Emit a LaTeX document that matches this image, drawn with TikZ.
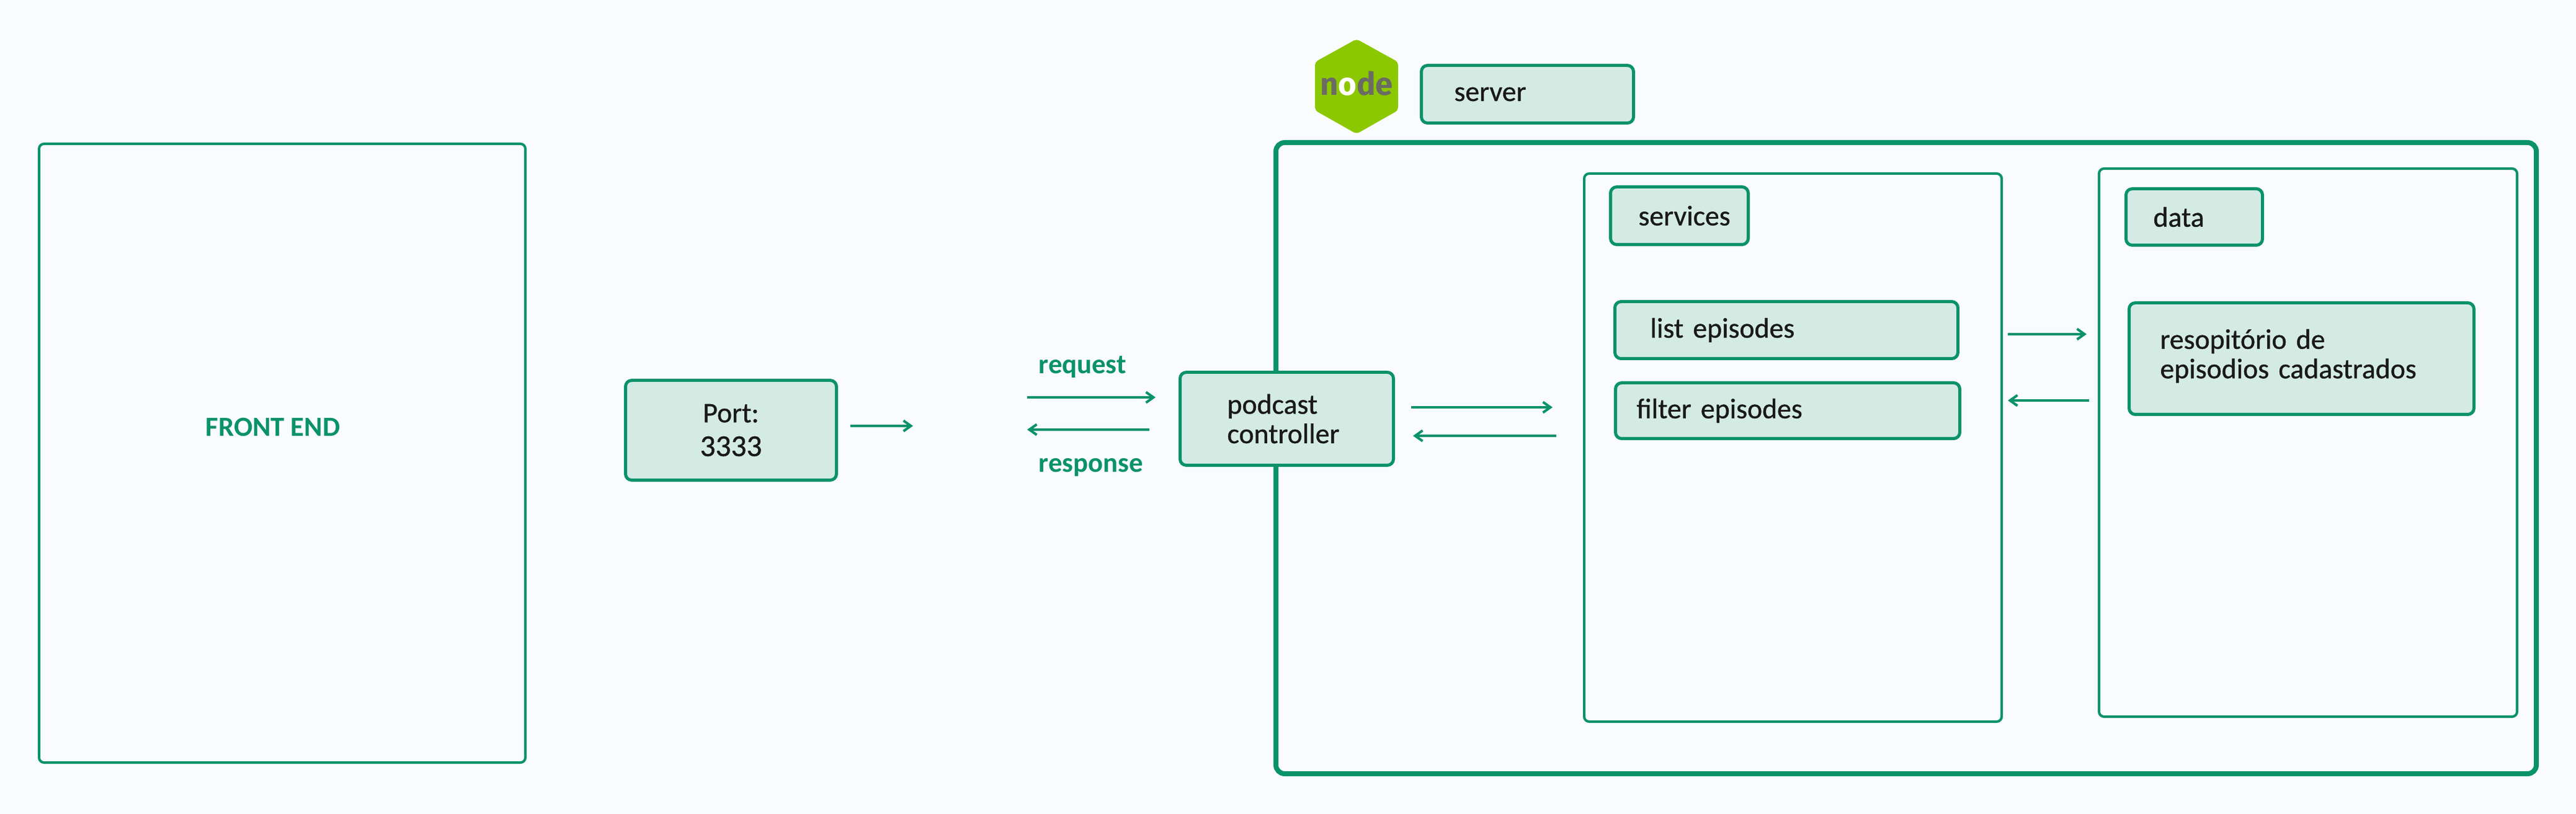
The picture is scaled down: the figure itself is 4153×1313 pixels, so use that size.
\documentclass[tikz,border=0pt]{standalone}
\usepackage{fontspec}
\setmainfont{Carlito}
\newfontfamily\labelfont{Carlito}[FakeBold=0.8]
\newfontfamily\logofont{Fira Sans Bold}
\usetikzlibrary{arrows.meta}
\definecolor{pagecol}{RGB}{249,251,253}
\definecolor{linecol}{RGB}{10,146,105}
\definecolor{fillcol}{RGB}{212,235,228}
\definecolor{logocol}{RGB}{140,200,0}
\definecolor{logotext}{RGB}{107,107,100}
\begin{document}
\begin{tikzpicture}[x=0.01cm, y=0.01cm,
    panel/.style n args={2}{draw=linecol, line width=0.04cm, rounded corners=0.08cm, anchor=north west, inner sep=0pt, minimum width=#1*0.01cm, minimum height=#2*0.01cm},
    tagbox/.style n args={3}{draw=linecol, fill=fillcol, line width=0.05cm, rounded corners=0.1cm, anchor=north west, inner xsep=#3*0.01cm, inner ysep=0pt, minimum width=#1*0.01cm, minimum height=#2*0.01cm, text width=(#1-2*#3)*0.01cm, align=left, text=black!90, font=\fontsize{13}{13.5}\labelfont},
    greentext/.style={text=linecol, inner sep=0pt, font=\fontsize{12.7}{13.5}\selectfont\bfseries},
    flowline/.style={draw=linecol, line width=0.04cm, -{Straight Barb[length=0.12cm, width=0.17cm]}}]
      \fill [pagecol] (0,0) rectangle (4153,-1313);
      \node [panel={784}{998}] (frontend) at (61,-230) {};
      \node [panel={673}{884}] (services) at (2552,-278) {};
      \node [panel={674}{884}] (data) at (3382,-270) {};
      \node [panel={2032}{1018}, line width=0.08cm, rounded corners=0.14cm] (server) at (2053,-226) {};
      \fill [logocol, rounded corners=0.05cm] (2187,-63) -- (2254,-100) -- (2254,-178) -- (2187,-216) -- (2120,-178) -- (2120,-100) -- cycle;
      \node [inner sep=0pt, font=\fontsize{14.5}{16}\logofont, text=logotext] (logo) at (2187,-135) {n\textcolor{white}{o}de};
      \node [tagbox={342}{93}{53}] (servertag) at (2289,-103) {server};
      \node [tagbox={340}{161}{0}, align=center] (port) at (1006,-611) {Port:\\[2pt]\fontsize{14}{13.5}\selectfont 3333};
      \node [tagbox={344}{150}{76}] (controller) at (1900,-598) {podcast\\controller};
      \node [tagbox={222}{93}{45}] (servicestag) at (2594,-299) {services};
      \node [tagbox={553}{92}{57}] (list) at (2601,-484) {list episodes};
      \node [tagbox={555}{90}{34}] (filter) at (2602,-615) {filter episodes};
      \node [tagbox={220}{91}{44}] (datatag) at (3425,-302) {data};
      \node [tagbox={556}{180}{50}] (repo) at (3430,-486) {resopitório de\\episodios cadastrados\\[-9pt]\mbox{}};
      \node [greentext] (front) at (440,-689) {FRONT END};
      \node [greentext, anchor=west] (request) at (1674,-592) {request};
      \node [greentext, anchor=west] (response) at (1674,-754) {response};
      \coordinate (portend) at (1472,-687);
      \coordinate (reqstart) at (1656,-641);
      \coordinate (respend) at (1656,-693);
      \coordinate (callend) at (2503,-657);
      \coordinate (backstart) at (2509,-703);
      \coordinate (fetchend) at (3364,-539);
      \coordinate (loadstart) at (3368,-646);
      \draw [flowline, shorten <=0.2cm] (port.east |- portend) -- (portend);
      \draw [flowline, shorten >=0.37cm] (reqstart) -- (reqstart -| controller.west);
      \draw [flowline, shorten <=0.47cm] (respend -| controller.west) -- (respend);
      \draw [flowline, shorten <=0.26cm] (callend -| controller.east) -- (callend);
      \draw [flowline, shorten >=0.29cm] (backstart) -- (backstart -| controller.east);
      \draw [flowline, shorten <=0.08cm] (fetchend -| services.east) -- (fetchend);
      \draw [flowline, shorten >=0.08cm] (loadstart) -- (loadstart -| services.east);
\end{tikzpicture}
\end{document}
